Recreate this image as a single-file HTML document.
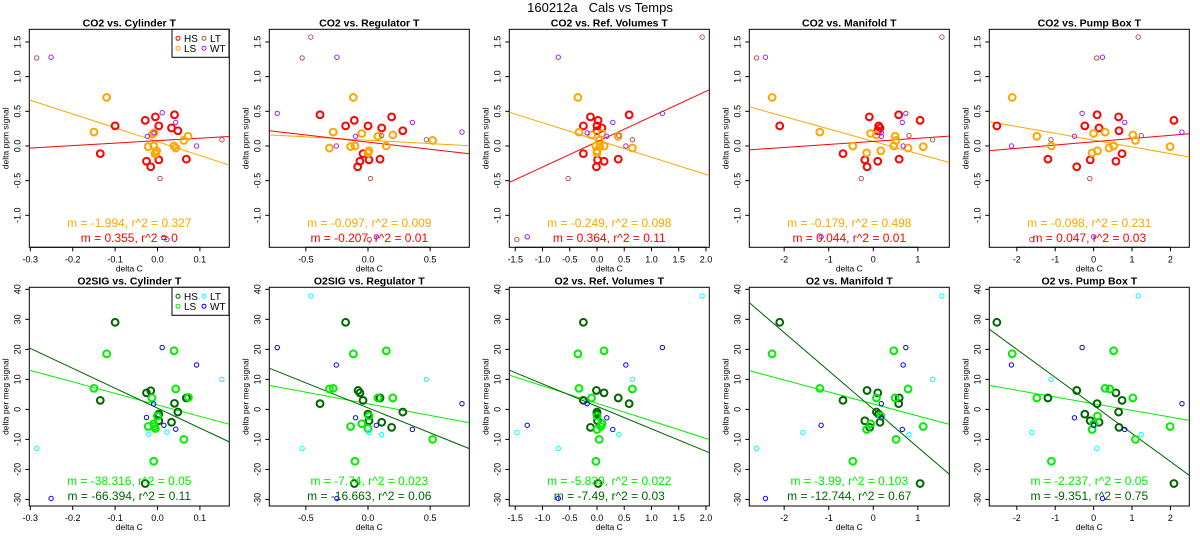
<!DOCTYPE html>
<html><head><meta charset="utf-8"><style>
html,body{margin:0;padding:0;background:#fff;}
svg{display:block;font-family:"Liberation Sans",sans-serif;}
</style></head><body>
<svg id="chart" width="1200" height="550" viewBox="0 0 1200 550">
<text x="600" y="12" text-anchor="middle" font-size="13">160212a&#160;&#160;&#160;Cals vs Temps</text>
</svg>
<script>
// ---- data: [x, y] pairs per group ----
const cylCO2_HS=[[-0.1,0.29],[-0.135,-0.11],[-0.029,0.37],[-0.005,0.42],[0.003,0.29],[0.04,0.45],[0.033,0.26],[0.048,0.22],[-0.026,-0.22],[-0.016,-0.3],[0.003,-0.2],[0.068,-0.19]];
const cylCO2_LS=[[-0.12,0.7],[-0.15,0.2],[-0.022,-0.01],[-0.009,0],[-0.004,-0.1],[-0.002,-0.07],[-0.012,0.17],[-0.008,0.19],[0.039,0],[0.043,-0.03],[0.062,0.08],[0.072,0.14],[-0.006,-0.11]];
const cylCO2_LT=[[-0.285,1.27],[0.152,0.09],[0.006,-0.47],[0.022,-1.35]];
const cylCO2_WT=[[-0.251,1.28],[0.011,0.48],[0.043,0.34],[0.092,0],[-0.024,0.14],[-0.008,0.19],[0.015,-1.32]];
const cylO2_HS=[[-0.1,29],[-0.135,3],[-0.026,5.5],[-0.016,6.2],[0.003,-1.6],[0,-2.2],[0.003,-3.8],[0.033,-4.3],[0.04,2],[0.048,-0.9],[0.068,3.8],[-0.029,-24.7]];
const cylO2_LS=[[-0.12,18.5],[-0.15,7],[-0.013,3.8],[-0.022,-5.7],[-0.009,-4.8],[-0.005,-6.4],[-0.007,-5.6],[0,-2.2],[0.039,19.5],[0.043,6.8],[0.062,-10],[0.073,4],[-0.009,-17.3]];
const cylO2_LT=[[-0.285,-13],[0.152,10],[-0.021,-8.3],[0.022,-7.6]];
const cylO2_WT=[[-0.251,-29.7],[0.011,20.6],[0.092,14.8],[-0.009,1.8],[-0.026,-2.7],[0.015,-5.3],[0.043,-6.6]];

const regCO2_HS=[[-0.386,0.45],[-0.18,0.29],[-0.11,0.37],[0,0.29],[0.11,0.26],[0.19,0.42],[0.28,0.22],[-0.04,-0.11],[-0.065,-0.22],[-0.083,-0.3],[0.008,-0.2],[0.097,-0.19]];
const regCO2_LS=[[-0.118,0.7],[-0.28,0.2],[-0.31,-0.03],[-0.14,-0.01],[-0.105,0],[-0.05,0.18],[0.008,-0.07],[0,-0.1],[0.08,0.14],[0.2,0.16],[0.147,0],[0.52,0.08]];
const regCO2_LT=[[-0.46,1.57],[-0.53,1.27],[0.02,-0.47],[0.11,0.15],[0.47,0.09],[0.01,-1.35]];
const regCO2_WT=[[-0.25,1.28],[-0.73,0.47],[-0.255,0],[-0.1,0.14],[0.357,0.34],[0.756,0.2],[0.067,-1.31]];
const regO2_HS=[[-0.18,29],[-0.386,1.9],[-0.08,6.3],[-0.065,5.5],[-0.04,3],[0,-1.6],[0.008,-3.8],[0.11,-4.3],[0.19,-6],[0.28,-0.9],[0.097,3.8],[-0.11,-24.7]];
const regO2_LS=[[-0.118,18.5],[-0.31,6.8],[-0.28,7],[-0.14,-5.7],[-0.05,-4.8],[0,-6.4],[0.008,-2.2],[0.147,19.5],[0.08,3.8],[0.2,3.8],[0.52,-10],[-0.105,-17.3]];
const regO2_LT=[[-0.46,37.8],[-0.53,-13],[0.47,10],[0.11,-8.4],[0.008,-7.7]];
const regO2_WT=[[-0.73,20.6],[-0.255,14.8],[-0.1,-2.8],[0.067,-5.3],[0.357,-6.7],[0.756,1.9],[-0.25,-29.7]];

const refCO2_HS=[[-0.12,0.42],[-0.25,0.29],[-0.25,-0.11],[0.02,0.37],[0,0.29],[0.09,0.26],[0,0.22],[0.59,0.45],[0.01,-0.2],[0.13,-0.22],[-0.01,-0.3],[0.39,-0.19]];
const refCO2_LS=[[-0.35,0.7],[-0.33,0.2],[-0.1,0.16],[0.04,0.08],[0.09,0.18],[-0.02,0],[0.05,-0.01],[0.13,0],[0,-0.07],[0,-0.1],[0.39,0.14],[0.65,-0.03]];
const refCO2_LT=[[1.93,1.57],[-1.47,-1.35],[-0.53,-0.47],[0.4,0.15],[0.65,0.09]];
const refCO2_WT=[[-0.71,1.28],[-1.28,-1.31],[-0.18,0.19],[0.18,0.14],[0.29,0.34],[0.53,0],[1.2,0.47]];
const refO2_HS=[[-0.25,29],[-0.25,3],[-0.01,6.3],[0.13,5.5],[0,-0.9],[0,-1.6],[0.01,-3.8],[-0.12,-6],[0.39,3.8],[0.59,1.9],[0.02,-24.7],[0.09,-4.7]];
const refO2_LS=[[-0.35,18.5],[0.13,19.5],[-0.33,7],[-0.1,3.8],[0.65,6.8],[0,-2.2],[0.09,-4.8],[0.07,-5.7],[0,-6.7],[0.04,-10],[-0.02,-17.3]];
const refO2_LT=[[1.93,37.8],[-1.47,-7.7],[-0.71,-13],[0.65,10],[0.4,-8.4]];
const refO2_WT=[[1.2,20.6],[0.53,14.8],[-1.28,-5.3],[-0.18,1.9],[0.18,-2.8],[0.29,-6.7],[-0.71,-29.7]];

const manCO2_HS=[[-2.1,0.29],[-0.68,-0.11],[-0.09,0.42],[0.12,0.29],[0.15,0.26],[0.1,0.22],[0.57,0.45],[1.05,0.37],[-0.19,-0.2],[-0.14,-0.3],[0.1,-0.22],[0.58,-0.19]];
const manCO2_LS=[[-2.27,0.7],[-1.2,0.2],[-0.46,0],[-0.06,0.18],[0.07,0.16],[-0.15,-0.1],[0.17,-0.07],[0.49,0.14],[0.51,0.08],[0.46,0],[0.78,-0.03],[1.12,-0.01]];
const manCO2_LT=[[-2.62,1.27],[1.54,1.57],[-0.27,-0.47],[0.8,0.15],[1.33,0.09]];
const manCO2_WT=[[-2.42,1.28],[0.73,0.47],[0.65,0.34],[0.18,0.19],[0.18,0.14],[0.67,0],[-1.17,-1.31]];
const manO2_HS=[[-2.1,29],[-0.68,3],[-0.14,6.3],[0.1,5.5],[0.07,-0.9],[0.12,-1.6],[-0.19,-3.8],[0.15,-4.3],[-0.08,-6],[0.58,3.8],[0.57,1.9],[1.05,-24.7]];
const manO2_LS=[[-2.27,18.5],[-1.2,7],[0.46,19.5],[0.07,3.8],[0.49,3.8],[0.78,6.8],[0.17,-2.2],[-0.06,-4.8],[-0.15,-6.7],[0.51,-10],[1.12,-5.7],[-0.46,-17.3]];
const manO2_LT=[[1.54,37.8],[-2.62,-13],[-1.58,-7.7],[1.33,10],[0.8,-8.4]];
const manO2_WT=[[0.73,20.6],[0.67,14.8],[-1.17,-5.3],[0.18,1.9],[0.18,-2.8],[0.65,-6.7],[-2.42,-29.7]];

const pumCO2_HS=[[-2.52,0.29],[-1.19,-0.19],[-0.44,-0.3],[-0.23,0.29],[0.09,0.45],[0.14,0.26],[-0.09,-0.2],[0.58,-0.22],[0.65,0.42],[0.66,0.22],[0.74,-0.11],[2.09,0.37]];
const pumCO2_LS=[[-2.12,0.7],[-1.48,0.14],[-1.1,0],[0,0.18],[0.3,0.2],[-0.04,-0.1],[0.1,-0.07],[0.4,-0.03],[0.52,0],[1.02,0.16],[1.09,0.08],[1.99,-0.01]];
const pumCO2_LT=[[0.08,1.27],[1.16,1.57],[-0.1,-0.47],[-1.11,0.09],[1.24,0.15],[-1.61,-1.35]];
const pumCO2_WT=[[0.23,1.28],[-0.3,0.47],[-0.5,0.14],[-2.14,0],[0.81,0.34],[2.3,0.2],[0,-1.31]];
const pumO2_HS=[[-2.52,29],[-1.19,3.8],[-0.44,6.3],[-0.23,-1.6],[0.09,1.9],[0.14,-4.3],[-0.09,-3.8],[0.58,5.5],[0.65,-0.9],[0.74,3],[0.66,-6],[2.09,-24.7]];
const pumO2_LS=[[-2.12,18.5],[-1.48,3.8],[-1.1,-17.3],[0,-4.8],[-0.04,-6.7],[0.1,-2.2],[0.3,7],[0.42,6.8],[0.52,19.5],[1.02,3.8],[1.09,-10],[1.99,-5.7]];
const pumO2_LT=[[1.16,37.8],[-1.11,10],[-1.61,-7.7],[0.08,-13],[1.24,-8.4]];
const pumO2_WT=[[-0.3,20.6],[-2.14,14.8],[-0.5,-2.8],[0,-5.3],[0.81,-6.7],[2.3,1.9],[0.23,-29.7]];

// fit lines: [slope, intercept]
const fitSlopesCO2_LS=[-1.994,-0.097,-0.249,-0.179,-0.098];
const fitIntCO2_LS=[0.062,0.083,0.087,0.067,0.085];
const fitSlopesCO2_HS=[0.355,-0.207,0.364,0.044,0.047];
const fitIntCO2_HS=[0.077,0.056,0.06,0.067,0.06];
const fitSlopesO2_LS=[-38.316,-7.74,-5.839,-3.99,-2.237];
const fitIntO2_LS=[1.5,1.85,2.0,1.8,1.9];
const fitSlopesO2_HS=[-66.394,-16.663,-7.49,-12.744,-9.351];
const fitIntO2_HS=[0.4,0.5,1.0,0.1,1.3];
const eqCO2_LS=["m = -1.994, r^2 = 0.327","m = -0.097, r^2 = 0.009","m = -0.249, r^2 = 0.098","m = -0.179, r^2 = 0.498","m = -0.098, r^2 = 0.231"];
const eqCO2_HS=["m = 0.355, r^2 = 0","m = -0.207, r^2 = 0.01","m = 0.364, r^2 = 0.11","m = 0.044, r^2 = 0.01","m = 0.047, r^2 = 0.03"];
const eqO2_LS=["m = -38.316, r^2 = 0.05","m = -7.74, r^2 = 0.023","m = -5.839, r^2 = 0.022","m = -3.99, r^2 = 0.103","m = -2.237, r^2 = 0.05"];
const eqO2_HS=["m = -66.394, r^2 = 0.11","m = -16.663, r^2 = 0.06","m = -7.49, r^2 = 0.03","m = -12.744, r^2 = 0.67","m = -9.351, r^2 = 0.75"];
const titlesCO2=["CO2 vs. Cylinder T","CO2 vs. Regulator T","CO2 vs. Ref. Volumes T","CO2 vs. Manifold T","CO2 vs. Pump Box T"];
const titlesO2=["O2SIG vs. Cylinder T","O2SIG vs. Regulator T","O2 vs. Ref. Volumes T","O2 vs. Manifold T","O2 vs. Pump Box T"];
const xTicks=[[-0.3,-0.2,-0.1,0,0.1],[-0.5,0,0.5],[-1.5,-1,-0.5,0,0.5,1,1.5,2],[-2,-1,0,1],[-2,-1,0,1,2]];
const xTickLabels=[["-0.3","-0.2","-0.1","0.0","0.1"],["-0.5","0.0","0.5"],["-1.5","-1.0","-0.5","0.0","0.5","1.0","1.5","2.0"],["-2","-1","0","1"],["-2","-1","0","1","2"]];
const xLims=[[-0.3024,0.1693],[-0.794,0.815],[-1.609,2.061],[-2.782,1.705],[-2.717,2.491]];
const yTicksCO2=[-1,-0.5,0,0.5,1,1.5];
const yTickLabelsCO2=["-1.0","-0.5","0.0","0.5","1.0","1.5"];
const yTicksO2=[-30,-20,-10,0,10,20,30,40];
const yTickLabelsO2=["-30","-20","-10","0","10","20","30","40"];
const yLimCO2=[-1.4615,1.683];
const yLimO2=[-32.2,40.67];

const colsCO2={HS:"#ff0000",LS:"#ffa500",LT:"#b5524f",WT:"#a020f0"};
const colsO2={HS:"#006400",LS:"#00ee00",LT:"#00ffff",WT:"#0000ff"};
const seriesCO2=[[cylCO2_HS,cylCO2_LS,cylCO2_LT,cylCO2_WT],[regCO2_HS,regCO2_LS,regCO2_LT,regCO2_WT],[refCO2_HS,refCO2_LS,refCO2_LT,refCO2_WT],[manCO2_HS,manCO2_LS,manCO2_LT,manCO2_WT],[pumCO2_HS,pumCO2_LS,pumCO2_LT,pumCO2_WT]];
const seriesO2=[[cylO2_HS,cylO2_LS,cylO2_LT,cylO2_WT],[regO2_HS,regO2_LS,regO2_LT,regO2_WT],[refO2_HS,refO2_LS,refO2_LT,refO2_WT],[manO2_HS,manO2_LS,manO2_LT,manO2_WT],[pumO2_HS,pumO2_LS,pumO2_LT,pumO2_WT]];

const NS="http://www.w3.org/2000/svg";
const svg=document.getElementById('chart');
function mk(tag,attrs,parent,txt){const e=document.createElementNS(NS,tag);for(const k in attrs)e.setAttribute(k,attrs[k]);if(txt!==undefined)e.textContent=txt;(parent||svg).appendChild(e);return e;}
const groups=["HS","LS","LT","WT"];

function panel(col,row){
  const top=row===0;
  const L=col*240+29.3,R=col*240+229.3;
  const T=top?29.3:287.3,B=top?247.3:506;
  const xl=xLims[col], yl=top?yLimCO2:yLimO2;
  const sx=v=>L+(v-xl[0])/(xl[1]-xl[0])*(R-L);
  const sy=v=>B-(v-yl[0])/(yl[1]-yl[0])*(B-T);
  const g=mk('g',{});
  
  
  const cp='clip'+row+col;
  const cpe=mk('clipPath',{id:cp},g);mk('rect',{x:L,y:T,width:R-L,height:B-T},cpe);
  const t=mk('text',{x:(L+R)/2,y:T-3,'text-anchor':'middle','font-size':10.5,'font-weight':'bold'},g,(top?titlesCO2:titlesO2)[col]);
  
  
  xTicks[col].forEach((v,i)=>{
    mk('line',{x1:sx(v),x2:sx(v),y1:B,y2:B+4,stroke:'#000','stroke-width':1},g);
    const tl=mk('text',{x:sx(v),y:B+15,'text-anchor':'middle','font-size':9},g,xTickLabels[col][i]);
    
    
  });
  mk('line',{x1:sx(xTicks[col][0]),x2:sx(xTicks[col][xTicks[col].length-1]),y1:B,y2:B,stroke:'#000'},g);
  const xt=mk('text',{x:(L+R)/2,y:B+24,'text-anchor':'middle','font-size':8.5},g,'delta C');
  
  
  const yt=top?yTicksCO2:yTicksO2, ytl=top?yTickLabelsCO2:yTickLabelsO2;
  yt.forEach((v,i)=>{
    mk('line',{x1:L-4,x2:L,y1:sy(v),y2:sy(v),stroke:'#000'},g);
    const tl=mk('text',{x:0,y:0,'text-anchor':'middle','font-size':9,transform:`translate(${L-9},${sy(v)}) rotate(-90)`},g,ytl[i]);
    
    
  });
  const yti=mk('text',{x:0,y:0,'text-anchor':'middle','font-size':8.5,transform:`translate(${L-21},${(T+B)/2}) rotate(-90)`},g,top?'delta ppm signal':'delta per meg signal');
  
  
  mk('rect',{x:L,y:T,width:R-L,height:B-T,fill:'none',stroke:'#000','stroke-width':1},g);
  const pg=mk('g',{'clip-path':`url(#${cp})`},g);
  const cols=top?colsCO2:colsO2;
  const ser=(top?seriesCO2:seriesO2)[col];
  const lines=top?[[fitSlopesCO2_LS,fitIntCO2_LS,'LS'],[fitSlopesCO2_HS,fitIntCO2_HS,'HS']]:[[fitSlopesO2_LS,fitIntO2_LS,'LS'],[fitSlopesO2_HS,fitIntO2_HS,'HS']];
  lines.forEach(([m,b,grp])=>{
    const ln=mk('line',{x1:sx(xl[0]),y1:sy(b[col]+m[col]*xl[0]),x2:sx(xl[1]),y2:sy(b[col]+m[col]*xl[1]),stroke:cols[grp],'stroke-width':1},pg);
    
    
  });
  ser.forEach((pts,gi)=>{
    const grp=groups[gi], big=gi<2;
    pts.forEach(p=>{
      const c=mk('circle',{cx:sx(p[0]),cy:sy(p[1]),r:big?3.4:2.2,fill:'none',stroke:cols[grp],'stroke-width':big?2:1},pg);
      
      
    });
  });
  const e1=mk('text',{x:(L+R)/2,y:top?227:485,'text-anchor':'middle','font-size':12,fill:cols.LS},g,(top?eqCO2_LS:eqO2_LS)[col]);
  
  
  const e2=mk('text',{x:(L+R)/2,y:top?242:500,'text-anchor':'middle','font-size':12,fill:cols.HS},g,(top?eqCO2_HS:eqO2_HS)[col]);
  
  
  if(col===0){
    const lg=mk('g',{},g);
    
    
    mk('rect',{x:172,y:T,width:57,height:28,fill:'#fff',stroke:'#000'},lg);
    [['HS',178,T+9],['LT',204,T+9],['LS',178,T+19],['WT',204,T+19]].forEach(([k,x,y])=>{
      mk('circle',{cx:x,cy:y,r:2,fill:'none',stroke:cols[k],'stroke-width':1},lg);
      const lt=mk('text',{x:x+6,y:y+3.5,'font-size':10},lg,k);
      
      
    });
  }
}
for(let c=0;c<5;c++){panel(c,0);panel(c,1);}
</script>
</body></html>
